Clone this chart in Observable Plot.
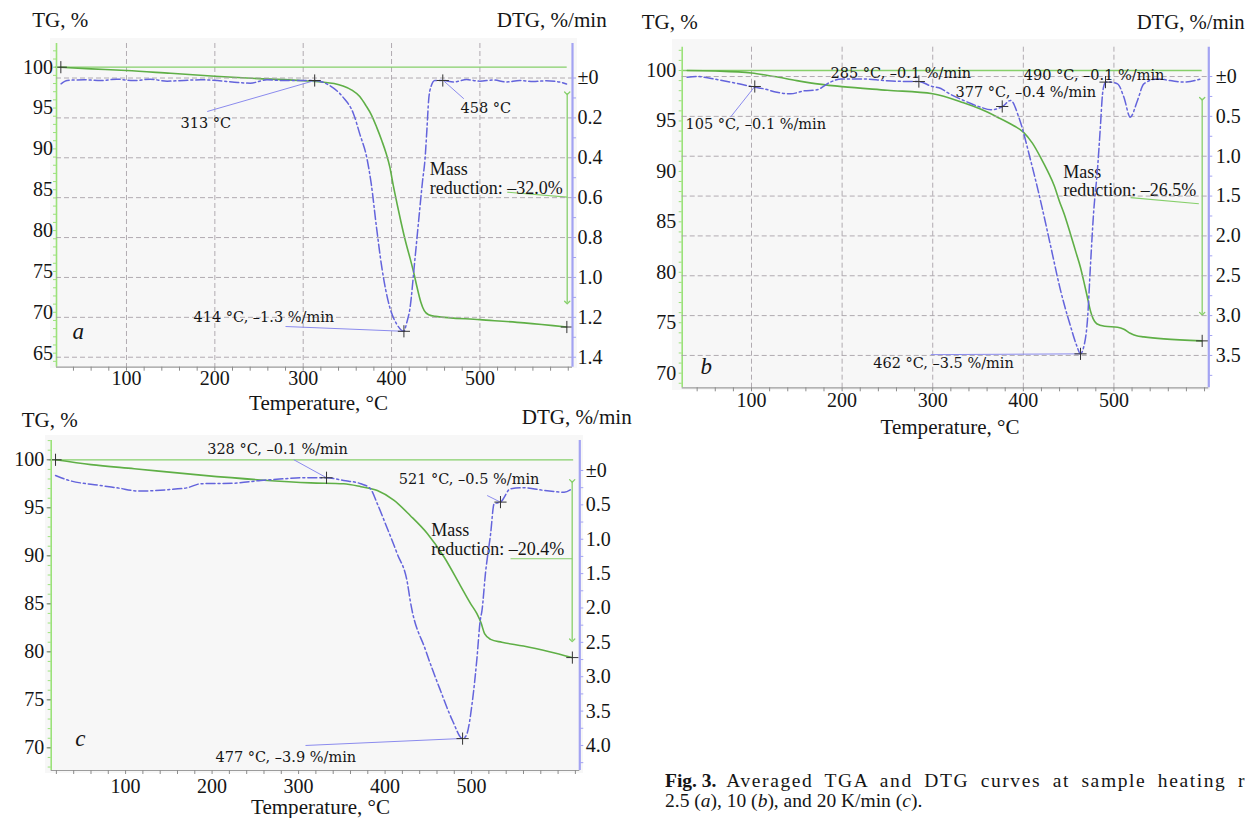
<!DOCTYPE html>
<html><head><meta charset="utf-8">
<script src="https://cdn.jsdelivr.net/npm/d3@7"></script>
<script src="https://cdn.jsdelivr.net/npm/@observablehq/plot@0.6"></script>
<style>
html,body{margin:0;padding:0;background:#fff;width:1248px;height:818px;overflow:hidden;}
#root{position:relative;width:1248px;height:818px;overflow:hidden;}
.bg{position:absolute;background:#f7f7f7;}
.title{position:absolute;font-family:"Liberation Serif","Times New Roman",serif;font-size:21px;color:#151515;line-height:1;white-space:nowrap;transform:translateY(-50%);}
.caption{position:absolute;font-family:"Liberation Serif","Times New Roman",serif;font-size:19.5px;line-height:20.7px;color:#151515;white-space:nowrap;}
#l1w{letter-spacing:1.6px;}
</style></head><body><div id="root"></div>
<script>
// ---------- DATA (temperature °C, value) ----------
// Panel a: 2.5 K/min
const tgA = [[25,100],[60,99.8],[100,99.6],[150,99.25],[200,98.9],[250,98.6],[300,98.35],[320,98.2],[335,98.0],[345,97.7],[355,97.2],[364,96.4],[371,95.3],[377,94.2],[383,92.7],[389,91.0],[394,89.4],[398,87.8],[402,85.5],[406,83.4],[411,80.9],[416,78.6],[421,76.6],[425,74.9],[429,73.0],[433,71.3],[437,70.2],[442,69.7],[450,69.5],[500,69.1],[550,68.7],[598,68.2]];
const dtgA = [[26,-0.029],[33,-0.012],[52,-0.009],[71,-0.013],[89,-0.006],[108,-0.013],[127,-0.006],[146,-0.016],[165,-0.012],[184,-0.009],[203,-0.013],[222,-0.021],[240,-0.026],[259,-0.009],[278,-0.013],[297,-0.012],[313,-0.013],[330,-0.038],[345,-0.096],[357,-0.18],[364,-0.28],[372,-0.40],[377,-0.53],[383,-0.75],[389,-0.95],[398,-1.15],[406,-1.235],[414,-1.27],[417,-1.23],[421,-1.15],[426,-0.93],[431,-0.70],[435,-0.52],[438,-0.40],[440,-0.26],[442,-0.11],[444.5,-0.045],[449,-0.012],[458,-0.012],[470,-0.02],[485,-0.008],[500,-0.016],[515,-0.01],[530,-0.02],[545,-0.012],[560,-0.018],[575,-0.014],[590,-0.02],[598,-0.03]];
const tgMarksA = [[25.7,100],[598.4,68.2]];
const dtgMarksA = [[313,-0.0125],[414,-1.27],[458,-0.0125]];
const labelsA = ["313 °C","458 °C","414 °C, –1.3 %/min"];
const massA = ["Mass","reduction: –32.0%"];

// Panel b: 10 K/min
const tgB = [[29,100],[60,99.95],[100,99.75],[125,99.4],[150,99.0],[175,98.65],[200,98.4],[250,98.05],[300,97.7],[334,96.8],[352,96.2],[371,95.4],[390,94.5],[400,93.9],[410,92.8],[419,91.4],[427,90.0],[434,88.6],[440,87.0],[445,85.8],[452,83.8],[458,82.0],[463,80.5],[467,79.0],[470.5,77.6],[474,76.2],[477,75.4],[481,74.9],[490,74.65],[504,74.55],[511,74.35],[518,73.95],[525,73.7],[533,73.6],[555,73.4],[597,73.2]];
const dtgB = [[29,-0.01],[40,0],[58,-0.03],[77,-0.07],[100,-0.125],[114,-0.155],[128,-0.197],[143,-0.217],[158,-0.18],[172,-0.167],[187,-0.07],[199,-0.03],[224,-0.03],[246,-0.05],[261,-0.06],[285,-0.063],[298,-0.12],[309,-0.15],[316,-0.2],[334,-0.30],[353,-0.385],[364,-0.418],[377,-0.376],[386,-0.30],[395,-0.51],[408,-1.05],[419,-1.56],[430,-2.12],[441,-2.68],[452,-3.13],[459,-3.38],[463,-3.48],[466.5,-3.40],[471,-3.02],[474,-2.39],[477.5,-1.72],[482,-1.14],[485,-0.64],[487.4,-0.22],[489,-0.113],[491,-0.07],[496,-0.07],[504,-0.092],[511,-0.26],[518,-0.51],[526,-0.30],[533,-0.092],[548,-0.03],[562,-0.05],[577,-0.07],[596,-0.03]];
const tgMarksB = [[597.4,73.2]];
const dtgMarksB = [[103.6,-0.125],[284.7,-0.063],[376.7,-0.376],[490.7,-0.07],[463.1,-3.48]];
const labelsB = ["105 °C, –0.1 %/min","285 °C, –0.1 %/min","377 °C, –0.4 %/min","490 °C, –0.1 %/min","462 °C, –3.5 %/min"];
const massB = ["Mass","reduction: –26.5%"];

// Panel c: 20 K/min
const tgC = [[19,100],[60,99.5],[110,99.07],[187,98.4],[256,97.9],[314,97.6],[352,97.5],[372,97.2],[391,96.8],[410,95.8],[429,94.2],[449,92.3],[468,89.9],[487,86.9],[499,85.0],[506,84.0],[511,83.0],[515,81.9],[522,81.3],[535,81.0],[560,80.6],[590,80.0],[616,79.4]];
const dtgC = [[19,-0.073],[32,-0.135],[71,-0.218],[90,-0.252],[117,-0.30],[148,-0.28],[171,-0.252],[187,-0.193],[225,-0.185],[256,-0.145],[283,-0.121],[302,-0.106],[332,-0.106],[352,-0.145],[372,-0.193],[383,-0.266],[391,-0.484],[402,-0.825],[414,-1.21],[426,-1.65],[429,-1.89],[447,-2.62],[464,-3.2],[478,-3.64],[489.6,-3.9],[494,-3.85],[501,-3.35],[506,-2.76],[510,-2.18],[512,-2.04],[516,-1.5],[522,-0.92],[526,-0.485],[533.4,-0.46],[545,-0.266],[560,-0.252],[584,-0.29],[607,-0.316],[616,-0.266]];
const tgMarksC = [[19,100],[616.5,79.4]];
const dtgMarksC = [[332.3,-0.106],[533.4,-0.46],[489.6,-3.9]];
const labelsC = ["328 °C, –0.1 %/min","521 °C, –0.5 %/min","477 °C, –3.9 %/min"];
const massC = ["Mass","reduction: –20.4%"];

// Tick values
const tempTicks = [100,200,300,400,500];
const tgTicksA = [100,95,90,85,80,75,70,65];
const tgTicksB = [100,95,90,85,80,75,70];
const tgTicksC = [100,95,90,85,80,75,70];
const dtgTicksA = [0,-0.2,-0.4,-0.6,-0.8,-1.0,-1.2,-1.4];
const dtgTicksB = [0,-0.5,-1.0,-1.5,-2.0,-2.5,-3.0,-3.5];
const dtgTicksC = [0,-0.5,-1.0,-1.5,-2.0,-2.5,-3.0,-3.5,-4.0];

// ---------- STYLE ----------
const GREEN = "#5faf46", GREEN_REF = "#86cf6a", AXIS_GREEN = "#9be27a";
const BLUE = "#6464dc", BLUE_AXIS = "#a3a3f2", LEADER = "#8b8bee";
const GRID = "#a59ea5", INK = "#151515";
const TICKFONT = "Liberation Serif", TICKSIZE = 20, ANNOFONT = "DejaVu Serif", SERIF = "Liberation Serif";
const fmtDTG = d => d === 0 ? "±0" : Math.abs(d).toFixed(1);

const root = document.getElementById("root");

function addDiv(cls, html, style) {
  const el = document.createElement("div");
  el.className = cls; el.innerHTML = html;
  Object.assign(el.style, style);
  root.appendChild(el);
  return el;
}
// title fitted to the width it has in the reference
function addTitle(text, x, cy, targetW, centered) {
  const el = addDiv("title", text, {left: x + "px", top: cy + "px"});
  const w = el.getBoundingClientRect().width;
  if (w > 0) el.style.fontSize = (21 * targetW / w).toFixed(2) + "px";
  if (centered) el.style.transform = "translate(-50%,-50%)";
  return el;
}

function makePanel(p) {
  addDiv("bg", "", {left: p.bg[0]+"px", top: p.bg[1]+"px", width: p.bg[2]+"px", height: p.bg[3]+"px"});
  const common = {
    width: p.w, height: p.h,
    marginLeft: p.m[0], marginRight: p.m[1], marginTop: p.m[2], marginBottom: p.m[3],
    style: {background: "transparent", overflow: "visible", fontFamily: TICKFONT, fontSize: TICKSIZE + "px", color: INK}
  };
  const X = d => d[0], Y = d => d[1];
  const minorT = [];
  for (let t = p.minorStart; t <= p.xDomain[1]; t += 20) minorT.push(t);
  const minorTG = [];
  for (let v = Math.ceil(p.tgDomain[0]); v <= p.tgDomain[1]; v += 1) minorTG.push(v);

  const tgMarks = [];
  if (p.grid) tgMarks.push(Plot.ruleX(tempTicks, {stroke: GRID, strokeDasharray: "5,3", strokeOpacity: 0.85}));
  tgMarks.push(
    Plot.ruleY([100], {x1: p.ref[0], x2: p.ref[1], stroke: GREEN_REF, strokeWidth: 1.3}),
    Plot.line(p.tg, {x: X, y: Y, stroke: GREEN, strokeWidth: 1.6, curve: "monotone-x"}),
    Plot.link([p.massArrow], {x1: d=>d[0], y1: d=>d[1], x2: d=>d[2], y2: d=>d[3], stroke: GREEN_REF, strokeWidth: 1.3, markerStart: "arrow", markerEnd: "arrow"}),
    Plot.link([p.massLeader], {x1: d=>d[0], y1: d=>d[1], x2: d=>d[2], y2: d=>d[3], stroke: GREEN_REF, strokeWidth: 1.1}),
    Plot.text(p.massText, {x: d=>d.x, y: d=>d.y, text: d=>d.t, textAnchor: "start", fontFamily: SERIF, fontSize: 18, fill: INK}),
    Plot.dot(p.tgMarks, {x: X, y: Y, symbol: "plus", r: 4, stroke: "#333", strokeWidth: 1}),
    Plot.ruleX([p.xDomain[0]], {stroke: AXIS_GREEN, strokeWidth: 1.6}),
    Plot.ruleY([p.tgDomain[0]], {stroke: "#9c9c9c", strokeWidth: 1.2}),
    Plot.axisX(minorT, {anchor: "bottom", tickSize: 4, tickFormat: () => "", stroke: "#8c8c8c", label: null}),
    Plot.axisX(tempTicks, {anchor: "bottom", tickSize: 0, tickPadding: p.xPad, fontSize: TICKSIZE, fontFamily: TICKFONT, fill: INK, label: null}),
    Plot.axisY(minorTG, {anchor: "left", tickSize: 3, tickFormat: () => "", stroke: AXIS_GREEN, label: null}),
    Plot.axisY(p.tgTicks, {anchor: "left", tickSize: p.tgTickSize, tickPadding: p.tgPad, stroke: "#777", fontSize: TICKSIZE, fontFamily: TICKFONT, fill: INK, label: null}),
    Plot.text([p.letter], {frameAnchor: "bottom-left", text: d => d, dx: p.letterD[0], dy: p.letterD[1], textAnchor: "start", fontFamily: SERIF, fontStyle: "italic", fontSize: 23, fill: INK})
  );
  const tgPlot = Plot.plot({...common, x: {domain: p.xDomain, label: null}, y: {domain: p.tgDomain, label: null}, marks: tgMarks});

  const dtgMarksL = [];
  if (p.grid) dtgMarksL.push(Plot.ruleY(p.dtgTicks, {stroke: GRID, strokeDasharray: "5,3", strokeOpacity: 0.85}));
  dtgMarksL.push(
    Plot.line(p.dtg, {x: X, y: Y, stroke: BLUE, strokeWidth: 1.5, strokeDasharray: "9,3,2,3", curve: "monotone-x"}),
    Plot.link(p.leaders, {x1: d=>d[0], y1: d=>d[1], x2: d=>d[2], y2: d=>d[3], stroke: LEADER, strokeWidth: 1}),
    Plot.dot(p.dtgMarks, {x: X, y: Y, symbol: "plus", r: 4, stroke: "#333", strokeWidth: 1}),
    Plot.text(p.annot, {x: d=>d.x, y: d=>d.y, text: d=>d.t, textAnchor: "start", fontFamily: ANNOFONT, fontSize: 14.5, fill: INK}),
    Plot.ruleX([p.xDomain[1]], {stroke: BLUE_AXIS, strokeWidth: 2.2}),
    Plot.axisY(p.dtgMinor, {anchor: "right", tickSize: 3, tickFormat: () => "", stroke: BLUE_AXIS, label: null}),
    Plot.axisY(p.dtgTicks, {anchor: "right", tickSize: 3, tickPadding: p.dtgPad, tickFormat: fmtDTG, stroke: BLUE_AXIS, fontSize: TICKSIZE, fontFamily: TICKFONT, fill: INK, label: null})
  );
  const dtgPlot = Plot.plot({...common, x: {domain: p.xDomain, axis: null, label: null}, y: {domain: p.dtgDomain, label: null}, marks: dtgMarksL});

  for (const svg of [tgPlot, dtgPlot]) {
    svg.style.position = "absolute";
    svg.style.left = p.left + "px";
    svg.style.top = p.top + "px";
    root.appendChild(svg);
  }
  addTitle("TG, %", p.tgTitle[0], p.tgTitle[1], 56, false);
  addTitle("DTG, %/min", p.dtgTitle[0], p.dtgTitle[1], p.dtgTitle[2], false);
  addTitle("Temperature, °C", p.tTitle[0], p.tTitle[1], 139, true);
}

// Panel a
makePanel({
  left: 0, top: 0, w: 630, h: 400, m: [56, 58, 43, 33.3],
  bg: [50, 38.3, 526.7, 330],
  xDomain: [20.8, 604.8], tgDomain: [63.28, 102.9], dtgDomain: [-1.450, 0.173],
  grid: true, minorStart: 40, xPad: 4,
  tg: tgA, dtg: dtgA, tgMarks: tgMarksA, dtgMarks: dtgMarksA,
  tgTicks: tgTicksA, tgTickSize: 0, tgPad: 3.5,
  dtgTicks: dtgTicksA, dtgMinor: [-0.1,-0.3,-0.5,-0.7,-0.9,-1.1,-1.3], dtgPad: 2,
  ref: [20.8, 598.8],
  massArrow: [598.8, 96.8, 598.8, 71.2], massLeader: [530.9, 84.7, 598.8, 84.1],
  massText: [{x: 443.3, y: 87.56, t: massA[0]}, {x: 443.3, y: 85.24, t: massA[1]}],
  annot: [{x: 161.1, y: -0.229, t: labelsA[0]}, {x: 478.1, y: -0.153, t: labelsA[1]}, {x: 175.9, y: -1.2, t: labelsA[2]}],
  leaders: [[191.4,-0.168,313.2,-0.0125],[481.8,-0.104,458.5,-0.0125],[280,-1.246,414,-1.27]],
  letter: "a", letterD: [16, -28.7],
  tgTitle: [32.3, 20], dtgTitle: [496.7, 21, 110], tTitle: [318.5, 404]
});

// Panel b
makePanel({
  left: 630, top: 0, w: 618, h: 440, m: [51.7, 39.7, 46.7, 52.7],
  bg: [671.7, 39.3, 538.3, 350.7],
  xDomain: [23.5, 604.7], tgDomain: [68.55, 102.31], dtgDomain: [-3.906, 0.368],
  grid: true, minorStart: 40, xPad: 4.5,
  tg: tgB, dtg: dtgB, tgMarks: tgMarksB, dtgMarks: dtgMarksB,
  tgTicks: tgTicksB, tgTickSize: 0, tgPad: 6,
  dtgTicks: dtgTicksB, dtgMinor: [-0.25,-0.75,-1.25,-1.75,-2.25,-2.75,-3.25,-3.75], dtgPad: 4,
  ref: [23.5, 597.4],
  massArrow: [597.4, 97.2, 597.4, 75.9], massLeader: [518.3, 87.4, 593.7, 86.8],
  massText: [{x: 444.0, y: 89.94, t: massB[0]}, {x: 444.0, y: 88.1, t: massB[1]}],
  annot: [{x: 27.1, y: -0.606, t: labelsB[0]}, {x: 187.2, y: 0.034, t: labelsB[1]}, {x: 325.2, y: -0.197, t: labelsB[2]}, {x: 400.5, y: 0.0125, t: labelsB[3]}, {x: 234.3, y: -3.6, t: labelsB[4]}],
  leaders: [[76.8,-0.51,103.6,-0.125],[297.9,-3.49,463.1,-3.48]],
  letter: "b", letterD: [18.3, -14],
  tgTitle: [641.7, 21.7], dtgTitle: [1136.7, 22.3, 108], tTitle: [950, 428]
});

// Panel c
makePanel({
  left: 0, top: 400, w: 630, h: 418, m: [50.7, 50.7, 40, 48],
  bg: [45, 435, 538, 338],
  xDomain: [14, 625.1], tgDomain: [67.64, 102.01], dtgDomain: [-4.364, 0.436],
  grid: false, minorStart: 20, xPad: 8.5,
  tg: tgC, dtg: dtgC, tgMarks: tgMarksC, dtgMarks: dtgMarksC,
  tgTicks: tgTicksC, tgTickSize: 4, tgPad: 3,
  dtgTicks: dtgTicksC, dtgMinor: [-0.25,-0.75,-1.25,-1.75,-2.25,-2.75,-3.25,-3.75,-4.25], dtgPad: 3,
  ref: [14, 618],
  massArrow: [616.3, 97.8, 616.3, 81.2], massLeader: [545, 89.7, 616.3, 89.7],
  massText: [{x: 453.3, y: 92.64, t: massC[0]}, {x: 453.3, y: 90.73, t: massC[1]}],
  annot: [{x: 194.3, y: 0.301, t: labelsC[0]}, {x: 415.8, y: -0.131, t: labelsC[1]}, {x: 203.9, y: -4.175, t: labelsC[2]}],
  leaders: [[294.5,0.156,332.3,-0.106],[518,-0.364,533.4,-0.461],[308,-4.0,489.6,-3.898]],
  letter: "c", letterD: [24, -25],
  tgTitle: [21.7, 420], dtgTitle: [521.7, 418.3, 110], tTitle: [320.5, 808]
});

// Caption (first line is justified in the reference: slightly letter-spaced, word gaps stretched to the right edge)
addDiv("caption", "<span id=\"l1\"><b>Fig. 3.</b>&ensp;<span id=\"l1w\">Averaged TGA and DTG curves at sample heating r</span></span><br>2.5 (<i>a</i>), 10 (<i>b</i>), and 20 K/min (<i>c</i>).", {left: "665px", top: "770.6px"});
const l1 = document.getElementById("l1"), l1w = document.getElementById("l1w");
const natural = l1.getBoundingClientRect().width;
const gaps = 8, target = 1246 - 665;
l1w.style.wordSpacing = Math.max(0, (target - natural) / gaps).toFixed(2) + "px";
</script></body></html>
